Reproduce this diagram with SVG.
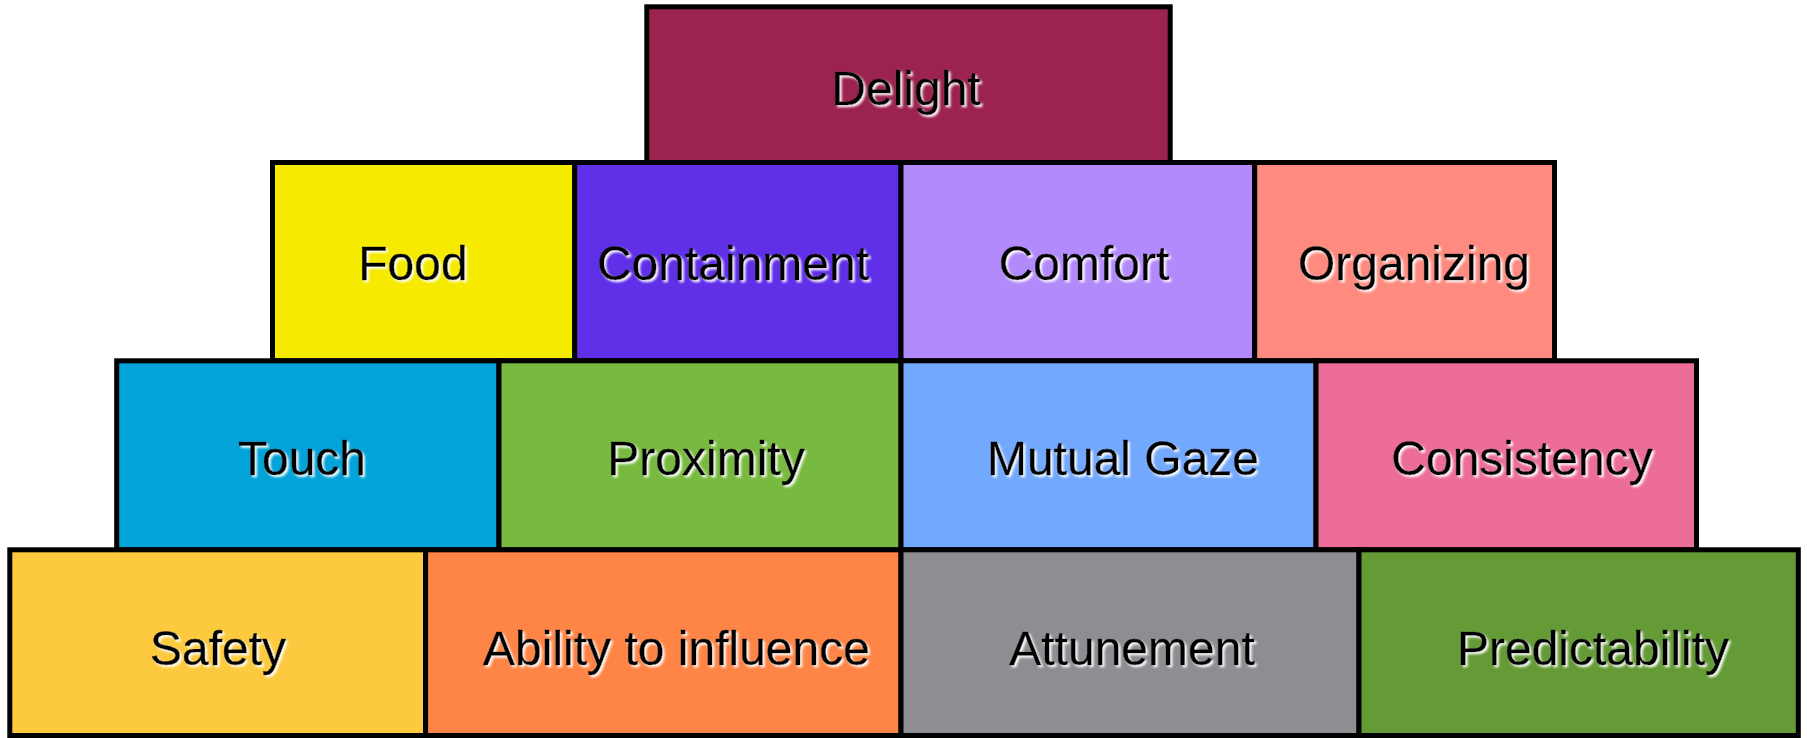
<svg xmlns="http://www.w3.org/2000/svg" width="1807" height="738" viewBox="0 0 1807 738">
  <defs>
    <!-- soft light halo offset down-right behind each label -->
    <filter id="glow" x="-10%" y="-30%" width="120%" height="160%">
      <feGaussianBlur in="SourceAlpha" stdDeviation="1.3" result="blur"/>
      <feOffset in="blur" dx="2" dy="2" result="off"/>
      <feFlood flood-color="#ffffff" flood-opacity="0.95"/>
      <feComposite in2="off" operator="in" result="halo"/>
      <feMerge>
        <feMergeNode in="halo"/>
        <feMergeNode in="SourceGraphic"/>
      </feMerge>
    </filter>
  </defs>
  <style>
    .blk { stroke: #000000; stroke-width: 5; }
    .lbl { font-family: "Liberation Sans", Arial, sans-serif; font-size: 48px; fill: #000000; stroke: #000000; stroke-width: 0.4; text-anchor: middle; filter: url(#glow); }
  </style>
  <rect x="0" y="0" width="1807" height="738" fill="#ffffff"/>

  <!-- top tier -->
  <g id="delight">
    <rect class="blk" x="646.8" y="6.8" width="523.4" height="155.7" fill="#9C2350"/>
    <text class="lbl" x="906" y="104.5">Delight</text>
  </g>

  <!-- second tier -->
  <g id="food">
    <rect class="blk" x="272.5" y="162.5" width="302.2" height="198.3" fill="#F5EA00"/>
    <text class="lbl" x="413" y="280">Food</text>
  </g>
  <g id="containment">
    <rect class="blk" x="574.7" y="162.5" width="326.3" height="198.3" fill="#602FE8"/>
    <text class="lbl" x="733" y="280">Containment</text>
  </g>
  <g id="comfort">
    <rect class="blk" x="901" y="162.5" width="353.7" height="198.3" fill="#B28AFB"/>
    <text class="lbl" x="1084" y="280">Comfort</text>
  </g>
  <g id="organizing">
    <rect class="blk" x="1254.7" y="162.5" width="299.8" height="198.3" fill="#FF8B80"/>
    <text class="lbl" x="1414" y="280">Organizing</text>
  </g>

  <!-- third tier -->
  <g id="touch">
    <rect class="blk" x="116.7" y="360.8" width="382.3" height="189" fill="#01A3D8"/>
    <text class="lbl" x="302" y="475">Touch</text>
  </g>
  <g id="proximity">
    <rect class="blk" x="499" y="360.8" width="402" height="189" fill="#78BA3F"/>
    <text class="lbl" x="706" y="475">Proximity</text>
  </g>
  <g id="mutual-gaze">
    <rect class="blk" x="901" y="360.8" width="415" height="189" fill="#72A8FD"/>
    <text class="lbl" x="1123" y="475">Mutual Gaze</text>
  </g>
  <g id="consistency">
    <rect class="blk" x="1316" y="360.8" width="380.5" height="189" fill="#EC6D9A"/>
    <text class="lbl" x="1522" y="475">Consistency</text>
  </g>

  <!-- base tier -->
  <g id="safety">
    <rect class="blk" x="9.8" y="549.8" width="415.8" height="185.7" fill="#FDC93E"/>
    <text class="lbl" x="218" y="664.5">Safety</text>
  </g>
  <g id="ability-to-influence">
    <rect class="blk" x="425.6" y="549.8" width="475.4" height="185.7" fill="#FF8546"/>
    <text class="lbl" x="676.5" y="664.5">Ability to influence</text>
  </g>
  <g id="attunement">
    <rect class="blk" x="901" y="549.8" width="458" height="185.7" fill="#8D8E92"/>
    <text class="lbl" x="1132" y="664.5">Attunement</text>
  </g>
  <g id="predictability">
    <rect class="blk" x="1359" y="549.8" width="439.3" height="185.7" fill="#659B37"/>
    <text class="lbl" x="1593" y="664.5">Predictability</text>
  </g>
</svg>
